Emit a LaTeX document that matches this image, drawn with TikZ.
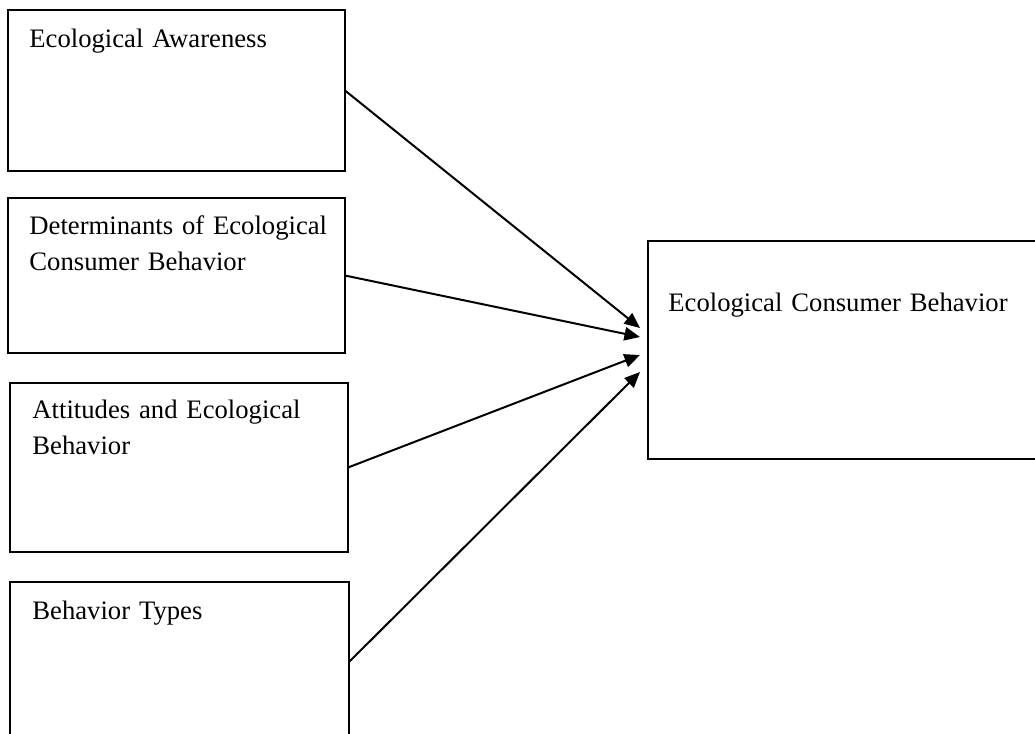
\documentclass[tikz,border=0pt]{standalone}
\usepackage{fontspec}
\setmainfont{Liberation Serif}
\usetikzlibrary{arrows.meta}

\begin{document}
\begin{tikzpicture}[x=0.45pt,y=-0.45pt,
	>={Triangle[length=7pt,width=6pt]},
	box/.style={draw, line width=0.6pt, inner sep=0pt, outer sep=0pt},
	lbl/.style={inner sep=0pt, anchor=base west, align=left, text width=170pt,
		font=\fontsize{12}{16.2}\selectfont}]
	\clip (0,0) rectangle (1035,733);
	
	\node[box, minimum width=151.65pt, minimum height=72.45pt] (aw) at (176.5,90.5) {};
	\node[box, minimum width=151.65pt, minimum height=69.75pt] (det) at (176.5,275.5) {};
	\node[box, minimum width=152.1pt, minimum height=76.05pt] (att) at (179,467.5) {};
	\node[box, minimum width=152.55pt, minimum height=72pt] (typ) at (179.5,662) {};
	\node[box, minimum width=178.65pt, minimum height=98.1pt] (ecb) at (846.5,350) {};
	
	\node[lbl] (awT) at (29,47) {Ecological Awareness};
	\node[lbl] (detT) at (29,234) {Determinants of Ecological\\Consumer Behavior};
	\node[lbl] (attT) at (32,418) {Attitudes and Ecological\\Behavior};
	\node[lbl] (typT) at (32,619) {Behavior Types};
	\node[lbl] (ecbT) at (668,311) {Ecological Consumer Behavior};
	
	\coordinate (in1) at ([shift={(-8,-22)}]ecb.west);
	\coordinate (in2) at ([shift={(-8,-13)}]ecb.west);
	\coordinate (in3) at ([shift={(-8,5)}]ecb.west);
	\coordinate (in4) at ([shift={(-8,22)}]ecb.west);
	
	\draw[->, line width=0.9pt] (aw.east) -- (in1);
	\draw[->, line width=0.9pt] (det.east) -- (in2);
	\draw[->, line width=0.9pt] (att.east) -- (in3);
	\draw[->, line width=0.9pt] (typ.east) -- (in4);
\end{tikzpicture}
\end{document}
